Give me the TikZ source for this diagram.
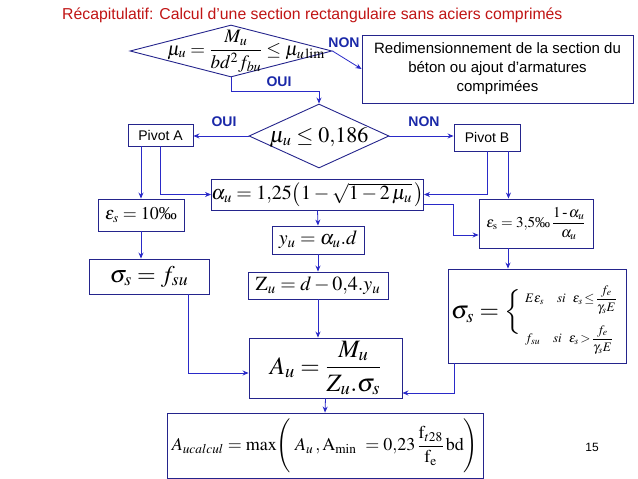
\documentclass[tikz,border=0pt]{standalone}
\usepackage{amsmath}
\usepackage{mathptmx}
\usepackage[no-math]{fontspec}
\setmainfont{Liberation Sans}
\newfontfamily\tnr{Liberation Serif}
\usetikzlibrary{shapes.geometric,arrows.meta,calc}
\definecolor{boxc}{HTML}{24248C}
\definecolor{arrc}{HTML}{2A2AC8}
\definecolor{labc}{HTML}{1A28A8}
\definecolor{titc}{HTML}{C01414}
\newcommand{\pmil}{\mbox{\tnr ‰}}
\begin{document}
\begin{tikzpicture}[x=1pt,y=-1pt,
  box/.style={draw=boxc, line width=0.9pt, inner sep=0pt},
  txt/.style={inner sep=0pt},
  arr/.style={draw=arrc, line width=0.8pt, -{Stealth[length=6pt,width=5pt]}},
  lab/.style={text=labc, inner sep=0pt, font=\fontsize{14}{16}\selectfont\bfseries}]
\useasboundingbox (0,0) rectangle (638,479);

\node[txt, anchor=west, text=titc, font=\fontsize{15.8}{18}\selectfont] (title) at (62,15)
  {Récapitulatif: Calcul d’une section rectangulaire sans aciers comprimés};

% first test
\node[diamond, box, minimum width=202pt, minimum height=52pt] (d1) at (231,51) {};
\node[txt, font=\fontsize{19}{21}\selectfont] (t1) at (246,51)
  {$\mu_u = \dfrac{M_u}{bd^2 f_{bu}} \leq \mu_{u\,\mathrm{lim}}$};

\node[box, minimum width=271pt, minimum height=68pt, align=center,
      font=\fontsize{15}{19}\selectfont] (redim) at (497.5,69)
  {Redimensionnement de la section du\\béton ou ajout d’armatures\\comprimées};

% second test
\node[diamond, box, minimum width=140pt, minimum height=64pt] (d2) at (319,136) {};
\node[txt, font=\fontsize{22}{24}\selectfont] (t2) at (319,137) {$\mu_u \leq 0{,}186$};

\node[box, minimum width=65pt, minimum height=22pt, font=\fontsize{14}{16}\selectfont] (pa) at (160.5,135) {Pivot A};
\node[box, minimum width=66pt, minimum height=27pt, font=\fontsize{14}{16}\selectfont] (pb) at (487,137.5) {Pivot B};

\node[box, minimum width=209pt, minimum height=31pt, font=\fontsize{20}{22}\selectfont] (al) at (317.5,194.5)
  {$\alpha_u = 1{,}25\bigl(1-\sqrt{1-2\,\mu_u}\,\bigr)$};

\node[box, minimum width=86pt, minimum height=32pt, font=\fontsize{18}{20}\selectfont] (eps10) at (141,215)
  {$\varepsilon_s = 10\pmil$};

\node[box, minimum width=114pt, minimum height=49pt, font=\fontsize{15}{17}\selectfont] (eps35) at (536,223.5)
  {$\varepsilon_{\mathrm{s}} = 3{,}5\pmil\,\dfrac{1\,\mbox{\tnr -}\,\alpha_u}{\alpha_u}$};

\node[box, minimum width=120pt, minimum height=35pt, font=\fontsize{24}{26}\selectfont] (sfs) at (149,276.5)
  {$\sigma_s = f_{su}$};

\node[box, minimum width=92pt, minimum height=28pt, font=\fontsize{20}{22}\selectfont] (yu) at (318,240)
  {$y_u = \alpha_u{.}d$};

\node[box, minimum width=140pt, minimum height=27pt, font=\fontsize{20}{22}\selectfont] (zu) at (318,285.5)
  {$\mathrm{Z}_u = d - 0{,}4{.}y_u$};

\node[box, minimum width=153pt, minimum height=60pt, font=\fontsize{25}{27}\selectfont] (au) at (325.5,368)
  {$A_u = \dfrac{M_u}{Z_u{.}\sigma_s}$};

% sigma_s piecewise
\node[box, minimum width=178pt, minimum height=94pt] (spw) at (537,316) {};
\node[txt, anchor=west, font=\fontsize{25}{27}\selectfont] (sg) at (451,312) {$\sigma_s = \Big\{$};
\node[txt, anchor=west, font=\fontsize{13}{15}\selectfont] (sl1) at (525,300)
  {$E\varepsilon_s\quad si\ \ \varepsilon_s\!\leq\!\dfrac{f_e}{\gamma_s E}$};
\node[txt, anchor=west, font=\fontsize{13}{15}\selectfont] (sl2) at (525,340)
  {$f_{su}\quad si\ \ \varepsilon_s\!>\!\dfrac{f_e}{\gamma_s E}$};

% final
\node[box, minimum width=316pt, minimum height=65pt] (fin) at (325,445.5) {};
\node[txt, font=\fontsize{18}{20}\selectfont] (ft) at (325,446)
  {$A_{ucalcul} = \max\Biggl(\;A_u\,, \mathrm{A}_{\min}\ = 0{,}23\,\dfrac{\mathrm{f}_{t28}}{\mathrm{f}_{\mathrm{e}}}\,\mathrm{bd}\Biggr)$};

\node[txt, font=\fontsize{12}{14}\selectfont] (pg) at (592,447) {15};

% labels
\node[lab] (non1) at (344,43) {NON};
\node[lab] (oui1) at (279,82) {OUI};
\node[lab] (oui2) at (224,122) {OUI};
\node[lab] (non2) at (424,122) {NON};

% connectors
\draw[arr] (d1.south) -- ++(0,14) -| (d2.north);
\draw[arr] (d1.east) -- (redim.west);
\draw[arr] (d2.west) -- (pa.east |- d2.west);
\draw[arr] (d2.east) -- (pb.west |- d2.east);
\draw[arr] (eps10.north |- pa.south) -- (eps10.north);
\draw[arr] (pa.south) |- (al.west);
\draw[arr] (pb.south) |- (al.east);
\draw[arr] ([xshift=-12pt]pb.south east) -- ([xshift=-12pt]pb.south east |- eps35.north);
\draw[arr] ([yshift=-10pt]al.east) -- ++(29,0) |- ([yshift=-11.5pt]eps35.west);
\draw[arr] (al.south) -- (yu.north);
\draw[arr] (yu.south) -- (zu.north);
\draw[arr] (zu.south) -- (zu.south |- au.north);
\draw[arr] (eps10.south) -- (eps10.south |- sfs.north);
\draw[arr] ([xshift=-28pt]eps35.south) -- ([xshift=-28pt]eps35.south |- spw.north);
\draw[arr] ([xshift=-21pt]sfs.south east) |- ([yshift=-5pt]au.west);
\draw[arr] ([xshift=7pt]spw.south west) |- ([yshift=-25pt]au.east);
\draw[arr] (au.south) -- (fin.north);
\end{tikzpicture}
\end{document}
